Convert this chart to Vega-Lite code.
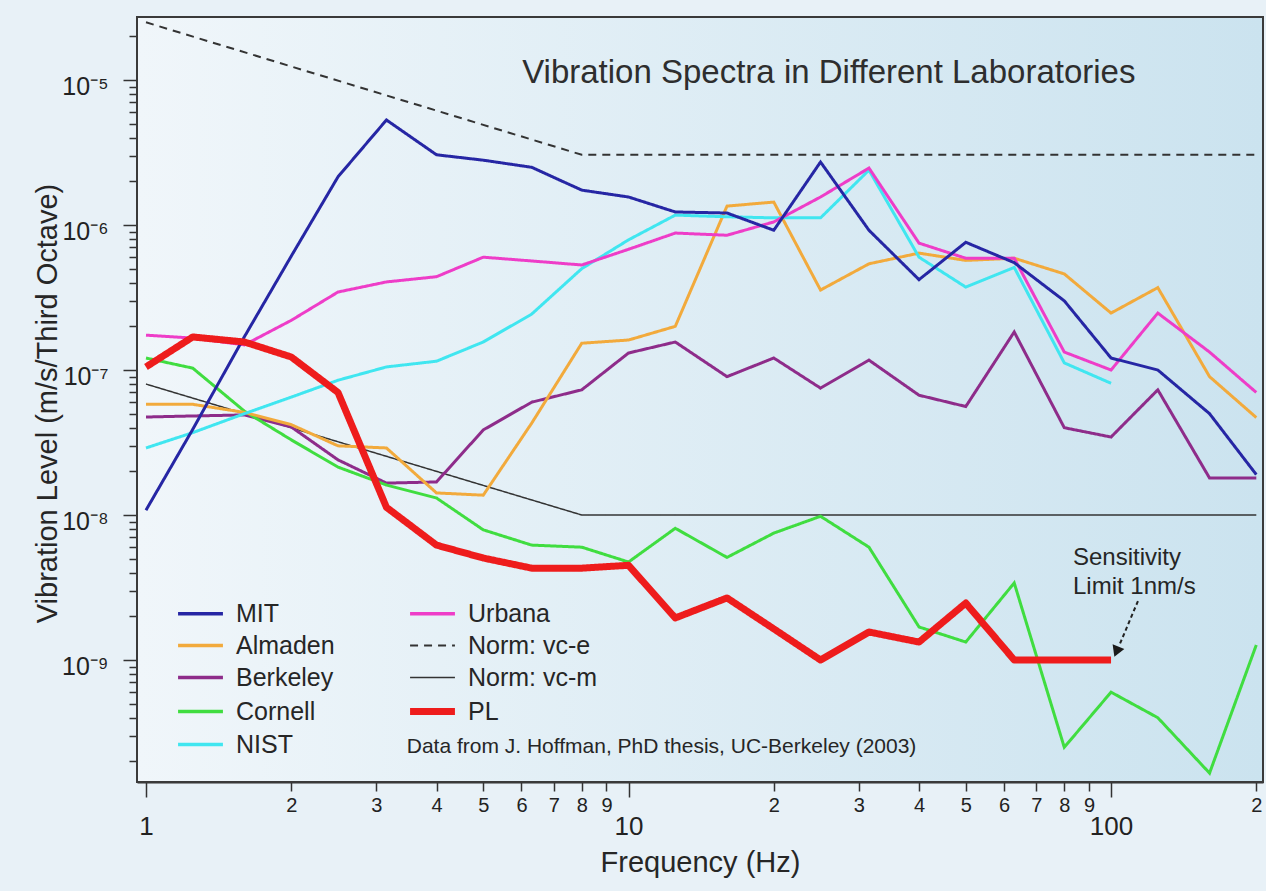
{
  "$schema": "https://vega.github.io/schema/vega-lite/v6.json",
  "width": 1126,
  "height": 765,
  "autosize": {"type": "none"},
  "padding": {"left": 137, "top": 17, "right": 3, "bottom": 109},
  "background": "#e8f1f7",
  "config": {
    "font": "Liberation Sans",
    "view": {"stroke": null},
    "legend": {
      "orient": "none",
      "legendX": 51,
      "legendY": 584,
      "columns": 2,
      "padding": 0,
      "offset": 0,
      "labelFontSize": 25,
      "labelFont": "Liberation Sans",
      "labelColor": "#262626",
      "labelBaseline": "middle",
      "labelOffset": 23,
      "labelLimit": 500,
      "rowPadding": 6,
      "columnPadding": 61,
      "symbolType": "M-1.36,0H1.36",
      "symbolSize": 1089,
      "gridAlign": "each"
    }
  },
  "datasets": {
    "lines": [
      {"s": "Norm: vc-e", "f": 1, "v": 2.5e-5},
      {"s": "Norm: vc-e", "f": 8, "v": 3.05e-6},
      {"s": "Norm: vc-e", "f": 200, "v": 3.05e-6},
      {"s": "Norm: vc-m", "f": 1, "v": 8e-8},
      {"s": "Norm: vc-m", "f": 8, "v": 1e-8},
      {"s": "Norm: vc-m", "f": 200, "v": 1e-8},

      {"s": "Berkeley", "f": 1, "v": 4.74e-8},
      {"s": "Berkeley", "f": 1.25, "v": 4.82e-8},
      {"s": "Berkeley", "f": 1.6, "v": 4.9e-8},
      {"s": "Berkeley", "f": 2, "v": 4.05e-8},
      {"s": "Berkeley", "f": 2.5, "v": 2.4e-8},
      {"s": "Berkeley", "f": 3.15, "v": 1.66e-8},
      {"s": "Berkeley", "f": 4, "v": 1.69e-8},
      {"s": "Berkeley", "f": 5, "v": 3.86e-8},
      {"s": "Berkeley", "f": 6.3, "v": 6.0e-8},
      {"s": "Berkeley", "f": 8, "v": 7.3e-8},
      {"s": "Berkeley", "f": 10, "v": 1.31e-7},
      {"s": "Berkeley", "f": 12.5, "v": 1.56e-7},
      {"s": "Berkeley", "f": 16, "v": 9.0e-8},
      {"s": "Berkeley", "f": 20, "v": 1.21e-7},
      {"s": "Berkeley", "f": 25, "v": 7.5e-8},
      {"s": "Berkeley", "f": 31.5, "v": 1.17e-7},
      {"s": "Berkeley", "f": 40, "v": 6.7e-8},
      {"s": "Berkeley", "f": 50, "v": 5.6e-8},
      {"s": "Berkeley", "f": 63, "v": 1.83e-7},
      {"s": "Berkeley", "f": 80, "v": 4.0e-8},
      {"s": "Berkeley", "f": 100, "v": 3.45e-8},
      {"s": "Berkeley", "f": 125, "v": 7.3e-8},
      {"s": "Berkeley", "f": 160, "v": 1.8e-8},
      {"s": "Berkeley", "f": 200, "v": 1.8e-8},

      {"s": "Cornell", "f": 1, "v": 1.21e-7},
      {"s": "Cornell", "f": 1.25, "v": 1.03e-7},
      {"s": "Cornell", "f": 1.6, "v": 5.2e-8},
      {"s": "Cornell", "f": 2, "v": 3.3e-8},
      {"s": "Cornell", "f": 2.5, "v": 2.14e-8},
      {"s": "Cornell", "f": 3.15, "v": 1.61e-8},
      {"s": "Cornell", "f": 4, "v": 1.31e-8},
      {"s": "Cornell", "f": 5, "v": 7.9e-9},
      {"s": "Cornell", "f": 6.3, "v": 6.2e-9},
      {"s": "Cornell", "f": 8, "v": 6.0e-9},
      {"s": "Cornell", "f": 10, "v": 4.74e-9},
      {"s": "Cornell", "f": 12.5, "v": 8.1e-9},
      {"s": "Cornell", "f": 16, "v": 5.1e-9},
      {"s": "Cornell", "f": 20, "v": 7.5e-9},
      {"s": "Cornell", "f": 25, "v": 9.8e-9},
      {"s": "Cornell", "f": 31.5, "v": 6.0e-9},
      {"s": "Cornell", "f": 40, "v": 1.69e-9},
      {"s": "Cornell", "f": 50, "v": 1.33e-9},
      {"s": "Cornell", "f": 63, "v": 3.4e-9},
      {"s": "Cornell", "f": 80, "v": 2.5e-10},
      {"s": "Cornell", "f": 100, "v": 6.0e-10},
      {"s": "Cornell", "f": 125, "v": 4.0e-10},
      {"s": "Cornell", "f": 160, "v": 1.66e-10},
      {"s": "Cornell", "f": 200, "v": 1.27e-9},

      {"s": "Almaden", "f": 1, "v": 5.8e-8},
      {"s": "Almaden", "f": 1.25, "v": 5.8e-8},
      {"s": "Almaden", "f": 1.6, "v": 5.1e-8},
      {"s": "Almaden", "f": 2, "v": 4.2e-8},
      {"s": "Almaden", "f": 2.5, "v": 3.0e-8},
      {"s": "Almaden", "f": 3.15, "v": 2.9e-8},
      {"s": "Almaden", "f": 4, "v": 1.42e-8},
      {"s": "Almaden", "f": 5, "v": 1.37e-8},
      {"s": "Almaden", "f": 6.3, "v": 4.3e-8},
      {"s": "Almaden", "f": 8, "v": 1.53e-7},
      {"s": "Almaden", "f": 10, "v": 1.61e-7},
      {"s": "Almaden", "f": 12.5, "v": 2.0e-7},
      {"s": "Almaden", "f": 16, "v": 1.35e-6},
      {"s": "Almaden", "f": 20, "v": 1.44e-6},
      {"s": "Almaden", "f": 25, "v": 3.56e-7},
      {"s": "Almaden", "f": 31.5, "v": 5.4e-7},
      {"s": "Almaden", "f": 40, "v": 6.4e-7},
      {"s": "Almaden", "f": 50, "v": 5.7e-7},
      {"s": "Almaden", "f": 63, "v": 5.9e-7},
      {"s": "Almaden", "f": 80, "v": 4.6e-7},
      {"s": "Almaden", "f": 100, "v": 2.47e-7},
      {"s": "Almaden", "f": 125, "v": 3.7e-7},
      {"s": "Almaden", "f": 160, "v": 9.0e-8},
      {"s": "Almaden", "f": 200, "v": 4.7e-8},

      {"s": "NIST", "f": 1, "v": 2.9e-8},
      {"s": "NIST", "f": 1.25, "v": 3.7e-8},
      {"s": "NIST", "f": 1.6, "v": 5.0e-8},
      {"s": "NIST", "f": 2, "v": 6.5e-8},
      {"s": "NIST", "f": 2.5, "v": 8.5e-8},
      {"s": "NIST", "f": 3.15, "v": 1.05e-7},
      {"s": "NIST", "f": 4, "v": 1.15e-7},
      {"s": "NIST", "f": 5, "v": 1.56e-7},
      {"s": "NIST", "f": 6.3, "v": 2.43e-7},
      {"s": "NIST", "f": 8, "v": 5.0e-7},
      {"s": "NIST", "f": 10, "v": 7.9e-7},
      {"s": "NIST", "f": 12.5, "v": 1.17e-6},
      {"s": "NIST", "f": 16, "v": 1.14e-6},
      {"s": "NIST", "f": 20, "v": 1.12e-6},
      {"s": "NIST", "f": 25, "v": 1.12e-6},
      {"s": "NIST", "f": 31.5, "v": 2.39e-6},
      {"s": "NIST", "f": 40, "v": 6.0e-7},
      {"s": "NIST", "f": 50, "v": 3.73e-7},
      {"s": "NIST", "f": 63, "v": 5.1e-7},
      {"s": "NIST", "f": 80, "v": 1.12e-7},
      {"s": "NIST", "f": 100, "v": 8.1e-8},

      {"s": "Urbana", "f": 1, "v": 1.74e-7},
      {"s": "Urbana", "f": 1.25, "v": 1.66e-7},
      {"s": "Urbana", "f": 1.6, "v": 1.49e-7},
      {"s": "Urbana", "f": 2, "v": 2.2e-7},
      {"s": "Urbana", "f": 2.5, "v": 3.45e-7},
      {"s": "Urbana", "f": 3.15, "v": 4.05e-7},
      {"s": "Urbana", "f": 4, "v": 4.4e-7},
      {"s": "Urbana", "f": 5, "v": 6.0e-7},
      {"s": "Urbana", "f": 6.3, "v": 5.65e-7},
      {"s": "Urbana", "f": 8, "v": 5.3e-7},
      {"s": "Urbana", "f": 10, "v": 6.8e-7},
      {"s": "Urbana", "f": 12.5, "v": 8.8e-7},
      {"s": "Urbana", "f": 16, "v": 8.5e-7},
      {"s": "Urbana", "f": 20, "v": 1.05e-6},
      {"s": "Urbana", "f": 25, "v": 1.56e-6},
      {"s": "Urbana", "f": 31.5, "v": 2.47e-6},
      {"s": "Urbana", "f": 40, "v": 7.5e-7},
      {"s": "Urbana", "f": 50, "v": 5.9e-7},
      {"s": "Urbana", "f": 63, "v": 5.9e-7},
      {"s": "Urbana", "f": 80, "v": 1.33e-7},
      {"s": "Urbana", "f": 100, "v": 1.0e-7},
      {"s": "Urbana", "f": 125, "v": 2.47e-7},
      {"s": "Urbana", "f": 160, "v": 1.33e-7},
      {"s": "Urbana", "f": 200, "v": 7.0e-8},

      {"s": "MIT", "f": 1, "v": 1.08e-8},
      {"s": "MIT", "f": 1.25, "v": 3.9e-8},
      {"s": "MIT", "f": 1.6, "v": 1.7e-7},
      {"s": "MIT", "f": 2, "v": 6.1e-7},
      {"s": "MIT", "f": 2.5, "v": 2.15e-6},
      {"s": "MIT", "f": 3.15, "v": 5.3e-6},
      {"s": "MIT", "f": 4, "v": 3.05e-6},
      {"s": "MIT", "f": 5, "v": 2.8e-6},
      {"s": "MIT", "f": 6.3, "v": 2.5e-6},
      {"s": "MIT", "f": 8, "v": 1.74e-6},
      {"s": "MIT", "f": 10, "v": 1.56e-6},
      {"s": "MIT", "f": 12.5, "v": 1.23e-6},
      {"s": "MIT", "f": 16, "v": 1.21e-6},
      {"s": "MIT", "f": 20, "v": 9.2e-7},
      {"s": "MIT", "f": 25, "v": 2.72e-6},
      {"s": "MIT", "f": 31.5, "v": 9.2e-7},
      {"s": "MIT", "f": 40, "v": 4.2e-7},
      {"s": "MIT", "f": 50, "v": 7.6e-7},
      {"s": "MIT", "f": 63, "v": 5.5e-7},
      {"s": "MIT", "f": 80, "v": 3.0e-7},
      {"s": "MIT", "f": 100, "v": 1.21e-7},
      {"s": "MIT", "f": 125, "v": 1.0e-7},
      {"s": "MIT", "f": 160, "v": 5.0e-8},
      {"s": "MIT", "f": 200, "v": 1.9e-8},

      {"s": "PL", "f": 1, "v": 1.05e-7},
      {"s": "PL", "f": 1.25, "v": 1.69e-7},
      {"s": "PL", "f": 1.6, "v": 1.56e-7},
      {"s": "PL", "f": 2, "v": 1.23e-7},
      {"s": "PL", "f": 2.5, "v": 7.0e-8},
      {"s": "PL", "f": 3.15, "v": 1.13e-8},
      {"s": "PL", "f": 4, "v": 6.2e-9},
      {"s": "PL", "f": 5, "v": 5.05e-9},
      {"s": "PL", "f": 6.3, "v": 4.3e-9},
      {"s": "PL", "f": 8, "v": 4.3e-9},
      {"s": "PL", "f": 10, "v": 4.5e-9},
      {"s": "PL", "f": 12.5, "v": 1.95e-9},
      {"s": "PL", "f": 16, "v": 2.68e-9},
      {"s": "PL", "f": 20, "v": 1.64e-9},
      {"s": "PL", "f": 25, "v": 1.0e-9},
      {"s": "PL", "f": 31.5, "v": 1.56e-9},
      {"s": "PL", "f": 40, "v": 1.33e-9},
      {"s": "PL", "f": 50, "v": 2.47e-9},
      {"s": "PL", "f": 63, "v": 1.0e-9},
      {"s": "PL", "f": 80, "v": 1.0e-9},
      {"s": "PL", "f": 100, "v": 1.0e-9}
    ],
    "notes": [
      {"kind": "title", "f": 6.02, "v": 1.12e-5, "t": "Vibration Spectra in Different Laboratories"},
      {"kind": "source", "f": 3.47, "v": 2.51e-10, "t": "Data from J. Hoffman, PhD thesis, UC-Berkeley (2003)"},
      {"kind": "limit", "f": 83.4, "v": 5.05e-9, "t": "Sensitivity"},
      {"kind": "limit", "f": 83.4, "v": 3.18e-9, "t": "Limit 1nm/s"}
    ],
    "arrow": [
      {"f": 113.7, "v": 2.55e-9, "f2": 104.4, "v2": 1.3e-9, "fh": 102.6, "vh": 1.14e-9}
    ]
  },
  "layer": [
    {
      "data": {"values": [{}]},
      "mark": {
        "type": "rect",
        "fill": {"gradient": "linear", "x1": 0, "y1": 0, "x2": 1, "y2": 0,
          "stops": [{"offset": 0, "color": "#f0f6fa"}, {"offset": 1, "color": "#cbe3ef"}]},
        "stroke": "#3a3a3a",
        "strokeWidth": 2
      },
      "encoding": {}
    },
    {
      "data": {"name": "lines"},
      "transform": [{"filter": "datum.s != 'PL'"}],
      "mark": {"type": "line", "clip": true},
      "encoding": {
        "x": {
          "field": "f", "type": "quantitative",
          "scale": {"type": "log", "domain": [0.958, 206.5], "nice": false},
          "title": "Frequency (Hz)",
          "axis": {
            "grid": false,
            "values": [1, 2, 3, 4, 5, 6, 7, 8, 9, 10, 20, 30, 40, 50, 60, 70, 80, 90, 100, 200],
            "labelExpr": "abs(log(datum.value)/LN10 - round(log(datum.value)/LN10)) < 0.01 ? format(datum.value, 'd') : format(round(datum.value / pow(10, floor(log(datum.value)/LN10 + 0.000001))), 'd')",
            "labelOverlap": false,
            "labelFlush": false,
            "labelBound": false,
            "labelColor": "#222222",
            "labelFontSize": {"condition": {"test": "abs(log(datum.value)/LN10 - round(log(datum.value)/LN10)) < 0.01", "value": 26}, "value": 20},
            "labelPadding": {"condition": {"test": "abs(log(datum.value)/LN10 - round(log(datum.value)/LN10)) < 0.01", "value": 16}, "value": 4},
            "tickSize": {"condition": {"test": "abs(log(datum.value)/LN10 - round(log(datum.value)/LN10)) < 0.01", "value": 15}, "value": 9},
            "tickColor": "#333333",
            "tickWidth": 1.5,
            "domainColor": "#333333",
            "domainWidth": 2,
            "titleFontSize": 29,
            "titleFontWeight": "normal",
            "titleColor": "#262626",
            "titleY": 80,
            "titleBaseline": "middle"
          }
        },
        "y": {
          "field": "v", "type": "quantitative",
          "scale": {"type": "log", "domain": [1.441e-10, 2.72e-5], "nice": false},
          "title": "Vibration Level (m/s/Third Octave)",
          "axis": {
            "grid": false,
            "values": [2e-10, 3e-10, 4e-10, 5e-10, 6e-10, 7e-10, 8e-10, 9e-10,
              1e-9, 2e-9, 3e-9, 4e-9, 5e-9, 6e-9, 7e-9, 8e-9, 9e-9,
              1e-8, 2e-8, 3e-8, 4e-8, 5e-8, 6e-8, 7e-8, 8e-8, 9e-8,
              1e-7, 2e-7, 3e-7, 4e-7, 5e-7, 6e-7, 7e-7, 8e-7, 9e-7,
              1e-6, 2e-6, 3e-6, 4e-6, 5e-6, 6e-6, 7e-6, 8e-6, 9e-6,
              1e-5, 2e-5],
            "labelExpr": "abs(log(datum.value)/LN10 - round(log(datum.value)/LN10)) < 0.01 ? '10⁻' + ['⁰','¹','²','³','⁴','⁵','⁶','⁷','⁸','⁹','¹⁰'][-round(log(datum.value)/LN10)] : ''",
            "labelOverlap": false,
            "labelBound": false,
            "labelFontSize": 25,
            "labelColor": "#222222",
            "labelPadding": 15,
            "labelOffset": 6,
            "tickSize": {"condition": {"test": "abs(log(datum.value)/LN10 - round(log(datum.value)/LN10)) < 0.01", "value": 14}, "value": 8},
            "tickColor": "#333333",
            "tickWidth": 1.5,
            "domainColor": "#333333",
            "domainWidth": 2,
            "titleFontSize": 29,
            "titleFontWeight": "normal",
            "titleColor": "#262626",
            "titleX": -90,
            "titleY": 386,
            "titleBaseline": "middle"
          }
        },
        "color": {
          "field": "s", "type": "nominal",
          "scale": {
            "domain": ["MIT", "Almaden", "Berkeley", "Cornell", "NIST", "Urbana", "Norm: vc-e", "Norm: vc-m", "PL"],
            "range": ["#2626a4", "#f2aa3c", "#8e2c8a", "#40dd40", "#40e6f0", "#ee3dc8", "#333333", "#333333", "#ee1c1c"]
          },
          "legend": {
            "title": null,
            "encode": {
              "symbols": {
                "update": {
                  "strokeWidth": {"signal": "datum.value === 'PL' ? 7 : (datum.value === 'Norm: vc-e' ? 2 : (datum.value === 'Norm: vc-m' ? 1.5 : 3.5))"}
                }
              }
            }
          }
        },
        "strokeDash": {
          "field": "s", "type": "nominal",
          "scale": {
            "domain": ["MIT", "Almaden", "Berkeley", "Cornell", "NIST", "Urbana", "Norm: vc-e", "Norm: vc-m", "PL"],
            "range": [[1, 0], [1, 0], [1, 0], [1, 0], [1, 0], [1, 0], [8, 6], [1, 0], [1, 0]]
          },
          "legend": {"title": null}
        },
        "strokeWidth": {
          "condition": [
            {"test": "datum.s === 'Norm: vc-e'", "value": 2},
            {"test": "datum.s === 'Norm: vc-m'", "value": 1.5}
          ],
          "value": 3
        }
      }
    },
    {
      "data": {"name": "lines"},
      "transform": [{"filter": "datum.s == 'PL'"}],
      "mark": {"type": "line", "clip": true, "strokeJoin": "round", "strokeWidth": 7},
      "encoding": {
        "x": {"field": "f", "type": "quantitative", "scale": {"type": "log", "domain": [0.958, 206.5], "nice": false}},
        "y": {"field": "v", "type": "quantitative", "scale": {"type": "log", "domain": [1.441e-10, 2.72e-5], "nice": false}},
        "color": {"field": "s", "type": "nominal", "legend": {"title": null}},
        "strokeDash": {"field": "s", "type": "nominal", "legend": {"title": null}}
      }
    },
    {
      "data": {"name": "arrow"},
      "mark": {"type": "rule", "color": "#222222", "strokeWidth": 2, "strokeDash": [4, 3]},
      "encoding": {
        "x": {"field": "f", "type": "quantitative"},
        "y": {"field": "v", "type": "quantitative"},
        "x2": {"field": "f2"},
        "y2": {"field": "v2"}
      }
    },
    {
      "data": {"name": "arrow"},
      "mark": {"type": "point", "shape": "triangle-up", "filled": true, "color": "#1a1a1a", "size": 160, "angle": 202, "opacity": 1},
      "encoding": {
        "x": {"field": "fh", "type": "quantitative"},
        "y": {"field": "vh", "type": "quantitative"}
      }
    },
    {
      "data": {"name": "notes"},
      "transform": [{"filter": "datum.kind == 'title'"}],
      "mark": {"type": "text", "align": "left", "baseline": "middle", "fontSize": 33, "color": "#2e2e2e"},
      "encoding": {
        "x": {"field": "f", "type": "quantitative"},
        "y": {"field": "v", "type": "quantitative"},
        "text": {"field": "t"}
      }
    },
    {
      "data": {"name": "notes"},
      "transform": [{"filter": "datum.kind == 'source'"}],
      "mark": {"type": "text", "align": "left", "baseline": "middle", "fontSize": 21, "color": "#262626"},
      "encoding": {
        "x": {"field": "f", "type": "quantitative"},
        "y": {"field": "v", "type": "quantitative"},
        "text": {"field": "t"}
      }
    },
    {
      "data": {"name": "notes"},
      "transform": [{"filter": "datum.kind == 'limit'"}],
      "mark": {"type": "text", "align": "left", "baseline": "middle", "fontSize": 24, "color": "#262626"},
      "encoding": {
        "x": {"field": "f", "type": "quantitative"},
        "y": {"field": "v", "type": "quantitative"},
        "text": {"field": "t"}
      }
    }
  ]
}
